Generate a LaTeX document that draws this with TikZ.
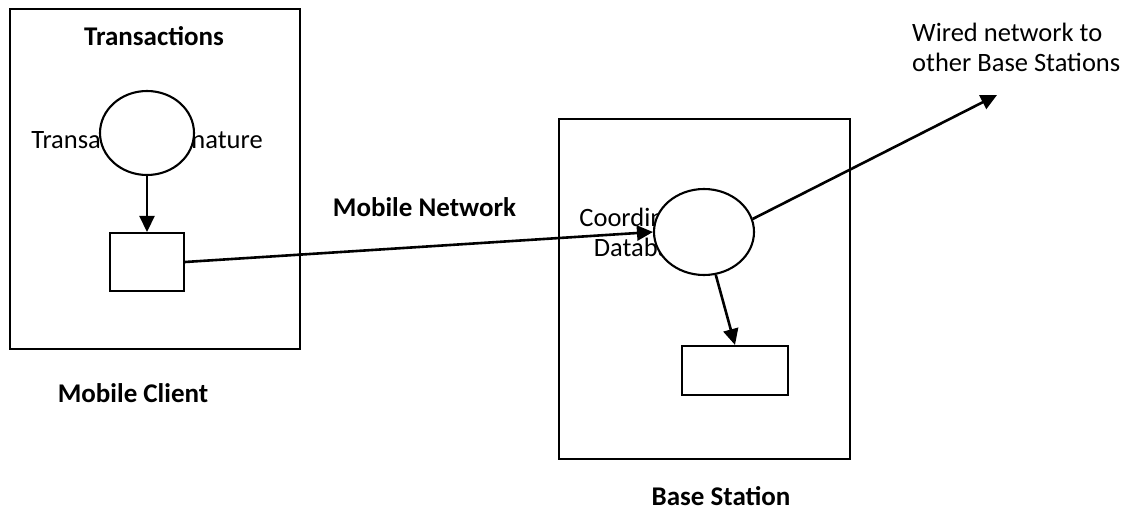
\documentclass[tikz,border=0pt]{standalone}
\usepackage{fontspec}
\setmainfont{Carlito}
\usetikzlibrary{arrows.meta,shapes.geometric}
\begin{document}
\begin{tikzpicture}[x=1pt,y=-1pt,
  outerbox/.style={draw,line width=2.1pt,rectangle,inner sep=0pt},
  innerbox/.style={draw,line width=2.1pt,rectangle,inner sep=0pt,fill=white},
  oval/.style={draw,line width=2.1pt,ellipse,inner sep=0pt,fill=white},
  lbl/.style={font=\fontsize{26.5}{30}\selectfont,inner sep=0pt},
  blbl/.style={font=\fontsize{27}{30}\selectfont\bfseries,inner sep=0pt},
  conn/.style={line width=2.6pt,-{Triangle[length=16pt,width=15pt]}}]
\useasboundingbox (0,0) rectangle (1123,513);
\fill[white] (0,0) rectangle (1123,513);
% outer boxes
\node[outerbox,minimum width=290pt,minimum height=340pt] (client) at (155,179) {};
\node[outerbox,minimum width=291pt,minimum height=340pt] (station) at (704.5,289) {};
% titles
\node[blbl,anchor=base] (ttrans) at (154,46) {Transactions};
\node[blbl,anchor=base] (tclient) at (133,402) {Mobile Client};
\node[blbl,anchor=base] (tnet) at (424.5,216) {Mobile Network};
\node[blbl,anchor=base] (tstation) at (721,505) {Base Station};
\node[lbl,align=left,anchor=west] (twired) at (912,47) {Wired network to\\[0pt]other Base Stations};
% texts partly hidden behind the ellipses
\node[lbl] (tsig) at (147,142) {Transaction Signature};
\node[lbl,align=center] (tcoord) at (644,232) {Coordinator\\[0pt]Database};
% ellipses and small boxes
\node[oval,minimum width=94pt,minimum height=84pt] (e1) at (147,133) {};
\node[innerbox,minimum width=74pt,minimum height=58pt] (b1) at (147,262) {};
\node[oval,minimum width=100pt,minimum height=86pt] (e2) at (704,232) {};
\node[innerbox,minimum width=106pt,minimum height=49pt] (b2) at (735,370.5) {};
\coordinate (wend) at (997,95);
% connectors
\draw[conn] (e1.south) -- (b1.north);
\draw[conn] (b1.east) -- (e2.west);
\draw[conn] (e2) -- (b2.north);
\draw[conn] (e2.15) -- (wend);
\end{tikzpicture}
\end{document}
